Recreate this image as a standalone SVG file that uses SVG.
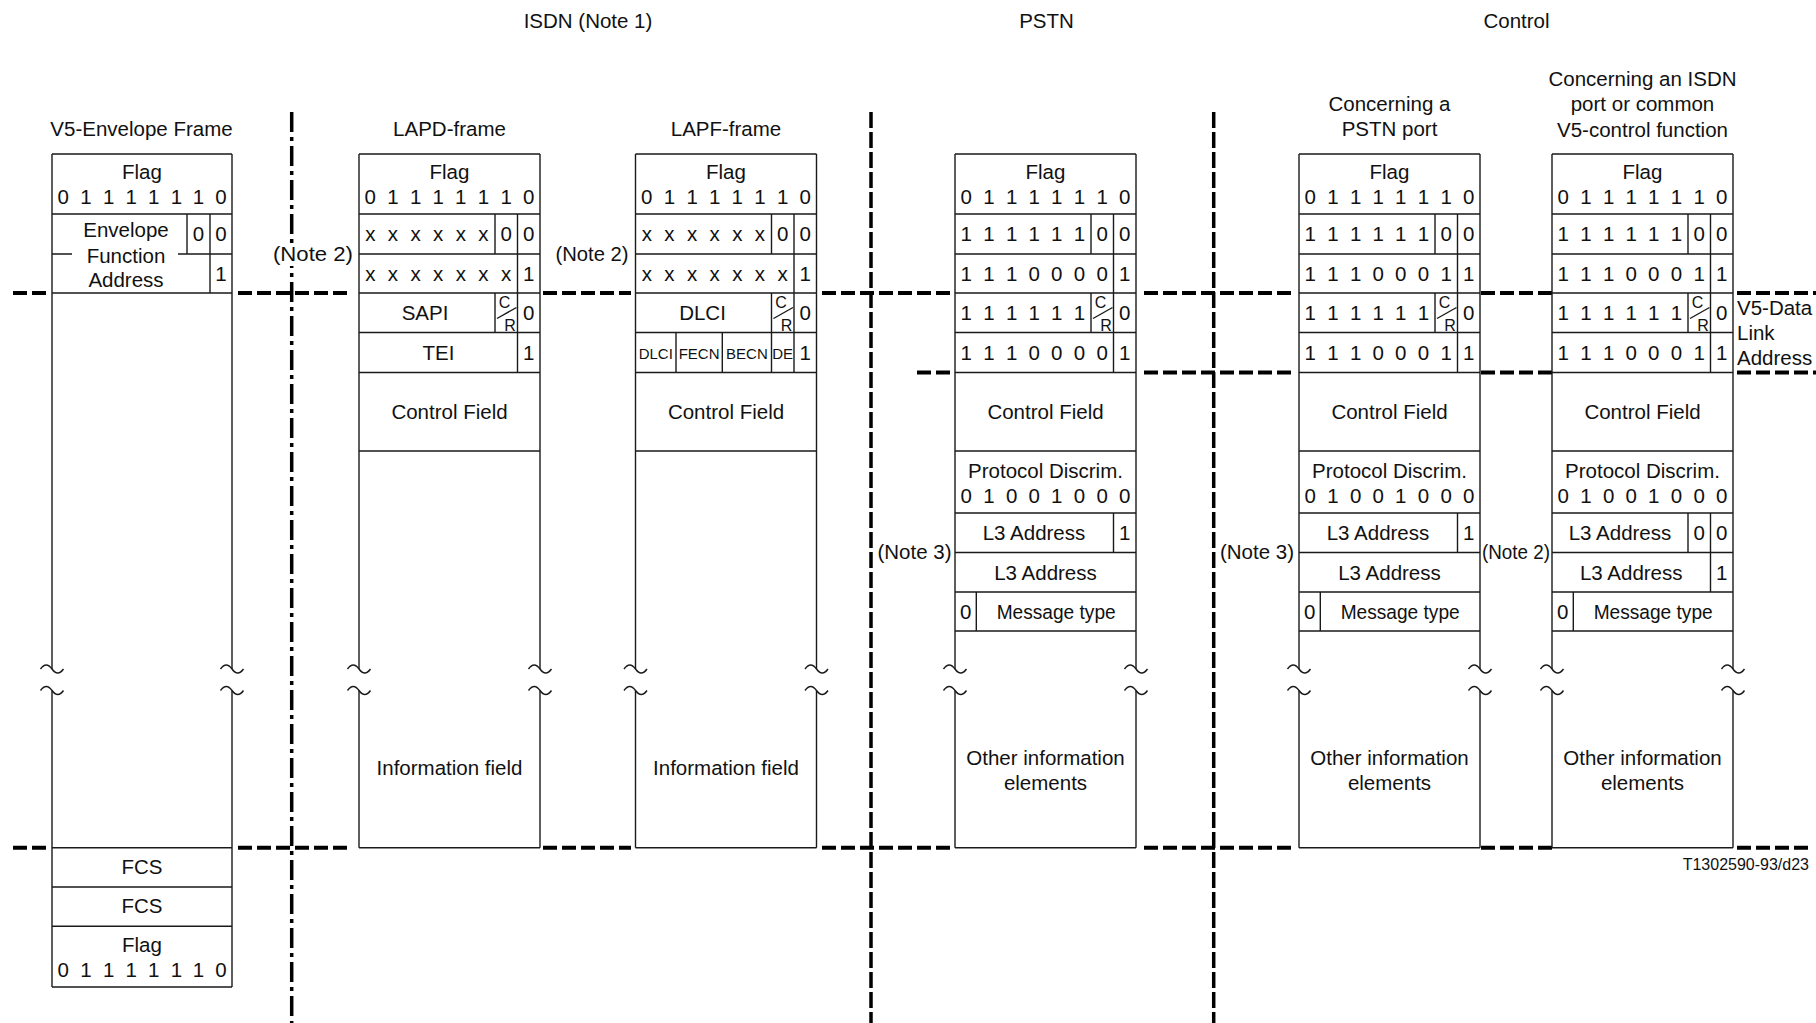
<svg xmlns="http://www.w3.org/2000/svg" xmlns:xlink="http://www.w3.org/1999/xlink" width="1816" height="1023" viewBox="0 0 1816 1023">
<style>
.t{font-family:"Liberation Sans",Arial,sans-serif;font-size:20.5px;fill:#111;text-anchor:middle}
.s{font-size:16px}
.xs{font-size:15px}
.fn{font-size:16px;text-anchor:end}
.la{text-anchor:start}
.ln{stroke:#1a1a1a;stroke-width:1.4;fill:none}
.hd{stroke:#000;stroke-width:4;stroke-dasharray:14 5;fill:none}
.vd{stroke:#000;stroke-width:3.5;stroke-dasharray:16 4;fill:none}
.dd{stroke:#000;stroke-width:3.5;stroke-dasharray:20 5 4 5;fill:none}
</style>
<defs>
<path id="tl" d="M-11.5 0q5.75 -8 11.5 0t11.5 0" fill="none" stroke="#1a1a1a" stroke-width="1.4"/>
</defs>
<rect width="1816" height="1023" fill="#fff"/>

<g id="separators">
<path class="dd" d="M291.7 112V1023"/>
<path class="vd" d="M871 112V1023M1213.7 112V1023"/>
<path class="hd" d="M13 293H49M238 293H352M543 293H631M822 293H951M1144 293H1295M1481 293H1552M1737 293H1816"/>
<path class="hd" d="M917 372.5H951M1144 372.5H1295M1481 372.5H1552M1737 372.5H1816"/>
<path class="hd" d="M13 847.7H49M238 847.7H352M543 847.7H631M822 847.7H951M1144 847.7H1295M1481 847.7H1552M1737 847.7H1810"/>
</g>

<g id="labels">
<text class="t" x="588" y="28">ISDN (Note 1)</text>
<text class="t" x="1046.5" y="28">PSTN</text>
<text class="t" x="1516.5" y="28">Control</text>
<rect x="273" y="243" width="81" height="23" fill="#fff"/>
<text class="t" x="313" y="260.5" textLength="80" lengthAdjust="spacingAndGlyphs">(Note 2)</text>
<text class="t" x="592" y="261" textLength="73" lengthAdjust="spacingAndGlyphs">(Note 2)</text>
<text class="t" x="914.5" y="558.5" textLength="74" lengthAdjust="spacingAndGlyphs">(Note 3)</text>
<text class="t" x="1257" y="558.5" textLength="74" lengthAdjust="spacingAndGlyphs">(Note 3)</text>
<text class="t" x="1516" y="559" textLength="68" lengthAdjust="spacingAndGlyphs">(Note 2)</text>
<text class="t la" x="1737" y="315">V5-Data</text>
<text class="t la" x="1737" y="340">Link</text>
<text class="t la" x="1737" y="365">Address</text>
<text class="t fn" x="1809" y="870">T1302590-93/d23</text>
</g>

<g id="envelope-frame" transform="translate(52,0)">
<path class="ln" d="M0 154H180M0 214H180M0 293H180M0 154V669M180 154V669M0 690.5V987M180 690.5V987M0 847.7H180M0 887H180M0 926.3H180M0 987H180M135 214V254M158 214V293M126 254H180M0 254H20"/>
<use href="#tl" x="0" y="669"/><use href="#tl" x="180" y="669"/><use href="#tl" x="0" y="690.5"/><use href="#tl" x="180" y="690.5"/>
<text class="t" x="89.5" y="136">V5-Envelope Frame</text>
<text class="t" x="90" y="178.5">Flag</text>
<text class="t" x="11.3 22.6 33.9 45.25 56.6 67.9 79.2 90.5 101.8 113.1 124.4 135.75 146.5 157.8 169" y="203.5">0 1 1 1 1 1 1 0</text>
<text class="t" x="74" y="237.3">Envelope</text>
<text class="t" x="74" y="262.7">Function</text>
<text class="t" x="74" y="286.7">Address</text>
<text class="t" x="146.5" y="241">0</text>
<text class="t" x="169" y="241">0</text>
<text class="t" x="169" y="280.5">1</text>
<text class="t" x="90" y="874.3">FCS</text>
<text class="t" x="90" y="913.3">FCS</text>
<text class="t" x="90" y="951.7">Flag</text>
<text class="t" x="11.3 22.6 33.9 45.25 56.6 67.9 79.2 90.5 101.8 113.1 124.4 135.75 146.5 157.8 169" y="976.7">0 1 1 1 1 1 1 0</text>
</g>

<g id="lapd-frame" transform="translate(359,0)">
<path class="ln" d="M0 154H181M0 214H181M0 254H181M0 293H181M0 332.5H181M0 372.5H181M0 451H181M0 847.7H181M0 154V669M181 154V669M0 690.5V847.7M181 690.5V847.7M136 214V254M158.5 214V372.5M136 293V332.5"/>
<use href="#tl" x="0" y="669"/><use href="#tl" x="181" y="669"/><use href="#tl" x="0" y="690.5"/><use href="#tl" x="181" y="690.5"/>
<text class="t" x="90.5" y="136">LAPD-frame</text>
<text class="t" x="90.5" y="178.5">Flag</text>
<text class="t" x="11.3 22.6 33.9 45.25 56.6 67.9 79.2 90.5 101.8 113.1 124.4 135.75 147.1 158.4 169.7" y="203.5">0 1 1 1 1 1 1 0</text>
<text class="t" x="11.3 22.6 33.9 45.25 56.6 67.9 79.2 90.5 101.8 113.1 124.4" y="241">x x x x x x</text>
<text class="t" x="147.1" y="241">0</text>
<text class="t" x="169.7" y="241">0</text>
<text class="t" x="11.3 22.6 33.9 45.25 56.6 67.9 79.2 90.5 101.8 113.1 124.4 135.75 147.1" y="280.5">x x x x x x x</text>
<text class="t" x="169.7" y="280.5">1</text>
<text class="t" x="66" y="320">SAPI</text>
<text class="t s" x="145.5" y="308">C</text>
<line class="ln" x1="138" y1="318.5" x2="157.5" y2="307.5"/>
<text class="t s" x="151" y="330.5">R</text>
<text class="t" x="169.7" y="320">0</text>
<text class="t" x="79.5" y="360">TEI</text>
<text class="t" x="169.7" y="360">1</text>
<text class="t" x="90.5" y="419">Control Field</text>
<text class="t" x="90.5" y="775">Information field</text>
</g>

<g id="lapf-frame" transform="translate(635.5,0)">
<path class="ln" d="M0 154H181M0 214H181M0 254H181M0 293H181M0 332.5H181M0 372.5H181M0 451H181M0 847.7H181M0 154V669M181 154V669M0 690.5V847.7M181 690.5V847.7M136 214V254M158.5 214V372.5M136 293V372.5M40.5 332.5V372.5M86.8 332.5V372.5"/>
<use href="#tl" x="0" y="669"/><use href="#tl" x="181" y="669"/><use href="#tl" x="0" y="690.5"/><use href="#tl" x="181" y="690.5"/>
<text class="t" x="90.5" y="136">LAPF-frame</text>
<text class="t" x="90.5" y="178.5">Flag</text>
<text class="t" x="11.3 22.6 33.9 45.25 56.6 67.9 79.2 90.5 101.8 113.1 124.4 135.75 147.1 158.4 169.7" y="203.5">0 1 1 1 1 1 1 0</text>
<text class="t" x="11.3 22.6 33.9 45.25 56.6 67.9 79.2 90.5 101.8 113.1 124.4" y="241">x x x x x x</text>
<text class="t" x="147.1" y="241">0</text>
<text class="t" x="169.7" y="241">0</text>
<text class="t" x="11.3 22.6 33.9 45.25 56.6 67.9 79.2 90.5 101.8 113.1 124.4 135.75 147.1" y="280.5">x x x x x x x</text>
<text class="t" x="169.7" y="280.5">1</text>
<text class="t" x="67" y="320">DLCI</text>
<text class="t s" x="145.5" y="308">C</text>
<line class="ln" x1="138" y1="318.5" x2="157.5" y2="307.5"/>
<text class="t s" x="151" y="330.5">R</text>
<text class="t" x="169.7" y="320">0</text>
<text class="t xs" x="20.25" y="358.5">DLCI</text>
<text class="t xs" x="63.6" y="358.5">FECN</text>
<text class="t xs" x="111.4" y="358.5">BECN</text>
<text class="t xs" x="147.2" y="358.5">DE</text>
<text class="t" x="169.7" y="360">1</text>
<text class="t" x="90.5" y="419">Control Field</text>
<text class="t" x="90.5" y="775">Information field</text>
</g>

<g id="pstn-frame" transform="translate(955,0)">
<path class="ln" d="M0 154H181M0 214H181M0 254H181M0 293H181M0 332.5H181M0 372.5H181M0 451H181M0 513H181M0 552.5H181M0 592H181M0 631H181M0 847.7H181M0 154V669M181 154V669M0 690.5V847.7M181 690.5V847.7M136 214V254M158.5 214V372.5M136 293V332.5M158.5 513V552.5M21.3 592V631"/>
<use href="#tl" x="0" y="669"/><use href="#tl" x="181" y="669"/><use href="#tl" x="0" y="690.5"/><use href="#tl" x="181" y="690.5"/>
<text class="t" x="90.5" y="178.5">Flag</text>
<text class="t" x="11.3 22.6 33.9 45.25 56.6 67.9 79.2 90.5 101.8 113.1 124.4 135.75 147.1 158.4 169.7" y="203.5">0 1 1 1 1 1 1 0</text>
<text class="t" x="11.3 22.6 33.9 45.25 56.6 67.9 79.2 90.5 101.8 113.1 124.4" y="241">1 1 1 1 1 1</text>
<text class="t" x="147.1" y="241">0</text>
<text class="t" x="169.7" y="241">0</text>
<text class="t" x="11.3 22.6 33.9 45.25 56.6 67.9 79.2 90.5 101.8 113.1 124.4 135.75 147.1" y="280.5">1 1 1 0 0 0 0</text>
<text class="t" x="169.7" y="280.5">1</text>
<text class="t" x="11.3 22.6 33.9 45.25 56.6 67.9 79.2 90.5 101.8 113.1 124.4" y="320">1 1 1 1 1 1</text>
<text class="t s" x="145.5" y="308">C</text>
<line class="ln" x1="138" y1="318.5" x2="157.5" y2="307.5"/>
<text class="t s" x="151" y="330.5">R</text>
<text class="t" x="169.7" y="320">0</text>
<text class="t" x="11.3 22.6 33.9 45.25 56.6 67.9 79.2 90.5 101.8 113.1 124.4 135.75 147.1" y="360">1 1 1 0 0 0 0</text>
<text class="t" x="169.7" y="360">1</text>
<text class="t" x="90.5" y="419">Control Field</text>
<text class="t" x="90.5" y="477.5">Protocol Discrim.</text>
<text class="t" x="11.3 22.6 33.9 45.25 56.6 67.9 79.2 90.5 101.8 113.1 124.4 135.75 147.1 158.4 169.7" y="502.5">0 1 0 0 1 0 0 0</text>
<text class="t" x="79" y="540">L3 Address</text>
<text class="t" x="169.7" y="540">1</text>
<text class="t" x="90.5" y="579.5">L3 Address</text>
<text class="t" x="10.7" y="619">0</text>
<text class="t" x="101.2" y="619" textLength="119" lengthAdjust="spacingAndGlyphs">Message type</text>
<text class="t" x="90.5" y="765">Other information</text>
<text class="t" x="90.5" y="790">elements</text>
</g>

<g id="control-pstn-port" transform="translate(1299,0)">
<path class="ln" d="M0 154H181M0 214H181M0 254H181M0 293H181M0 332.5H181M0 372.5H181M0 451H181M0 513H181M0 552.5H181M0 592H181M0 631H181M0 847.7H181M0 154V669M181 154V669M0 690.5V847.7M181 690.5V847.7M136 214V254M158.5 214V372.5M136 293V332.5M158.5 513V552.5M21.3 592V631"/>
<use href="#tl" x="0" y="669"/><use href="#tl" x="181" y="669"/><use href="#tl" x="0" y="690.5"/><use href="#tl" x="181" y="690.5"/>
<text class="t" x="90.5" y="110.5">Concerning a</text>
<text class="t" x="90.5" y="136">PSTN port</text>
<text class="t" x="90.5" y="178.5">Flag</text>
<text class="t" x="11.3 22.6 33.9 45.25 56.6 67.9 79.2 90.5 101.8 113.1 124.4 135.75 147.1 158.4 169.7" y="203.5">0 1 1 1 1 1 1 0</text>
<text class="t" x="11.3 22.6 33.9 45.25 56.6 67.9 79.2 90.5 101.8 113.1 124.4" y="241">1 1 1 1 1 1</text>
<text class="t" x="147.1" y="241">0</text>
<text class="t" x="169.7" y="241">0</text>
<text class="t" x="11.3 22.6 33.9 45.25 56.6 67.9 79.2 90.5 101.8 113.1 124.4 135.75 147.1" y="280.5">1 1 1 0 0 0 1</text>
<text class="t" x="169.7" y="280.5">1</text>
<text class="t" x="11.3 22.6 33.9 45.25 56.6 67.9 79.2 90.5 101.8 113.1 124.4" y="320">1 1 1 1 1 1</text>
<text class="t s" x="145.5" y="308">C</text>
<line class="ln" x1="138" y1="318.5" x2="157.5" y2="307.5"/>
<text class="t s" x="151" y="330.5">R</text>
<text class="t" x="169.7" y="320">0</text>
<text class="t" x="11.3 22.6 33.9 45.25 56.6 67.9 79.2 90.5 101.8 113.1 124.4 135.75 147.1" y="360">1 1 1 0 0 0 1</text>
<text class="t" x="169.7" y="360">1</text>
<text class="t" x="90.5" y="419">Control Field</text>
<text class="t" x="90.5" y="477.5">Protocol Discrim.</text>
<text class="t" x="11.3 22.6 33.9 45.25 56.6 67.9 79.2 90.5 101.8 113.1 124.4 135.75 147.1 158.4 169.7" y="502.5">0 1 0 0 1 0 0 0</text>
<text class="t" x="79" y="540">L3 Address</text>
<text class="t" x="169.7" y="540">1</text>
<text class="t" x="90.5" y="579.5">L3 Address</text>
<text class="t" x="10.7" y="619">0</text>
<text class="t" x="101.2" y="619" textLength="119" lengthAdjust="spacingAndGlyphs">Message type</text>
<text class="t" x="90.5" y="765">Other information</text>
<text class="t" x="90.5" y="790">elements</text>
</g>

<g id="control-isdn-common" transform="translate(1552,0)">
<path class="ln" d="M0 154H181M0 214H181M0 254H181M0 293H181M0 332.5H181M0 372.5H181M0 451H181M0 513H181M0 552.5H181M0 592H181M0 631H181M0 847.7H181M0 154V669M181 154V669M0 690.5V847.7M181 690.5V847.7M136 214V254M158.5 214V372.5M136 293V332.5M136 513V552.5M158.5 513V592M21.3 592V631"/>
<use href="#tl" x="0" y="669"/><use href="#tl" x="181" y="669"/><use href="#tl" x="0" y="690.5"/><use href="#tl" x="181" y="690.5"/>
<text class="t" x="90.5" y="86">Concerning an ISDN</text>
<text class="t" x="90.5" y="111">port or common</text>
<text class="t" x="90.5" y="136.5">V5-control function</text>
<text class="t" x="90.5" y="178.5">Flag</text>
<text class="t" x="11.3 22.6 33.9 45.25 56.6 67.9 79.2 90.5 101.8 113.1 124.4 135.75 147.1 158.4 169.7" y="203.5">0 1 1 1 1 1 1 0</text>
<text class="t" x="11.3 22.6 33.9 45.25 56.6 67.9 79.2 90.5 101.8 113.1 124.4" y="241">1 1 1 1 1 1</text>
<text class="t" x="147.1" y="241">0</text>
<text class="t" x="169.7" y="241">0</text>
<text class="t" x="11.3 22.6 33.9 45.25 56.6 67.9 79.2 90.5 101.8 113.1 124.4 135.75 147.1" y="280.5">1 1 1 0 0 0 1</text>
<text class="t" x="169.7" y="280.5">1</text>
<text class="t" x="11.3 22.6 33.9 45.25 56.6 67.9 79.2 90.5 101.8 113.1 124.4" y="320">1 1 1 1 1 1</text>
<text class="t s" x="145.5" y="308">C</text>
<line class="ln" x1="138" y1="318.5" x2="157.5" y2="307.5"/>
<text class="t s" x="151" y="330.5">R</text>
<text class="t" x="169.7" y="320">0</text>
<text class="t" x="11.3 22.6 33.9 45.25 56.6 67.9 79.2 90.5 101.8 113.1 124.4 135.75 147.1" y="360">1 1 1 0 0 0 1</text>
<text class="t" x="169.7" y="360">1</text>
<text class="t" x="90.5" y="419">Control Field</text>
<text class="t" x="90.5" y="477.5">Protocol Discrim.</text>
<text class="t" x="11.3 22.6 33.9 45.25 56.6 67.9 79.2 90.5 101.8 113.1 124.4 135.75 147.1 158.4 169.7" y="502.5">0 1 0 0 1 0 0 0</text>
<text class="t" x="68" y="540">L3 Address</text>
<text class="t" x="147.1" y="540">0</text>
<text class="t" x="169.7" y="540">0</text>
<text class="t" x="79.25" y="579.5">L3 Address</text>
<text class="t" x="169.7" y="579.5">1</text>
<text class="t" x="10.7" y="619">0</text>
<text class="t" x="101.2" y="619" textLength="119" lengthAdjust="spacingAndGlyphs">Message type</text>
<text class="t" x="90.5" y="765">Other information</text>
<text class="t" x="90.5" y="790">elements</text>
</g>
</svg>
